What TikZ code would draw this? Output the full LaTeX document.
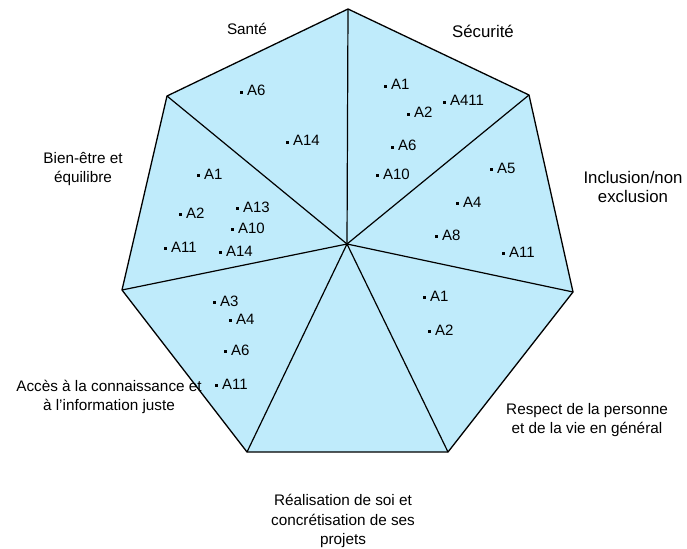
\documentclass[tikz,border=0pt]{standalone}
\usepackage{fontspec}
\setmainfont{Liberation Sans}
\definecolor{cellblue}{RGB}{191,235,251}
\newcommand\itmdot{\raisebox{0.3ex}{\rule{2.4pt}{2.4pt}}\hspace{4.5pt}}
\begin{document}
\begin{tikzpicture}[x=1pt,y=-1pt,
  sector/.style={fill=cellblue,draw=black,line width=1.2pt,line join=miter},
  lbl/.style={inner sep=0pt,align=center,font=\fontsize{15.3}{19.5}\selectfont},
  biglbl/.style={inner sep=0pt,align=center,font=\fontsize{16.8}{18.5}\selectfont},
  itm/.style={inner sep=0pt,anchor=base west,font=\fontsize{15}{16}\selectfont}]
\useasboundingbox (0,0) rectangle (687,548);
\coordinate (c) at (347,244);
\coordinate (v1) at (348,9);
\coordinate (v2) at (529,95);
\coordinate (v3) at (573,292);
\coordinate (v4) at (448,452);
\coordinate (v5) at (247,452);
\coordinate (v6) at (122,290);
\coordinate (v7) at (167,96);
\fill[cellblue] (v1) -- (v2) -- (v3) -- (v4) -- (v5) -- (v6) -- (v7) -- cycle;
\draw[line width=1.3pt,line join=miter] (v1) -- (v2) -- (v3) -- (v4) -- (v5) -- (v6) -- (v7) -- cycle;
\foreach \v in {v1,v2,v3,v4,v5,v6,v7} \draw[line width=1.2pt] (c) -- (\v);
% labels
\node[lbl] (sante) at (247,29) {Santé};
\node[biglbl] (secu) at (483,31) {Sécurité};
\node[biglbl] (incl) at (633,187) {Inclusion/non\\exclusion};
\node[lbl] (bien) at (83,169) {Bien-être et\\équilibre};
\node[lbl] (acces) at (109,397) {Accès à la connaissance et\\à l'information juste};
\node[lbl] (resp) at (587,420) {Respect de la personne\\et de la vie en général};
\node[lbl] (real) at (343,521) {Réalisation de soi et\\concrétisation de ses\\projets};
% Santé
\node[itm] (s1) at (240,96) {\itmdot A6};
\node[itm] (s2) at (286,146) {\itmdot A14};
% Sécurité
\node[itm] (u1) at (384,90) {\itmdot A1};
\node[itm] (u2) at (443,106) {\itmdot A411};
\node[itm] (u3) at (407,118) {\itmdot A2};
\node[itm] (u4) at (391,151) {\itmdot A6};
\node[itm] (u5) at (376,179) {\itmdot A10};
% Inclusion
\node[itm] (i1) at (490,173) {\itmdot A5};
\node[itm] (i2) at (456,207) {\itmdot A4};
\node[itm] (i3) at (435,240) {\itmdot A8};
\node[itm] (i4) at (502,257) {\itmdot A11};
% Bien-être
\node[itm] (b1) at (197,179) {\itmdot A1};
\node[itm] (b2) at (179,218) {\itmdot A2};
\node[itm] (b3) at (236,212) {\itmdot A13};
\node[itm] (b4) at (231,233) {\itmdot A10};
\node[itm] (b5) at (164,252) {\itmdot A11};
\node[itm] (b6) at (219,256) {\itmdot A14};
% Accès
\node[itm] (a1) at (213,306) {\itmdot A3};
\node[itm] (a2) at (229,324) {\itmdot A4};
\node[itm] (a3) at (224,355) {\itmdot A6};
\node[itm] (a4) at (215,389) {\itmdot A11};
% Respect
\node[itm] (r1) at (423,301) {\itmdot A1};
\node[itm] (r2) at (428,335) {\itmdot A2};
\end{tikzpicture}
\end{document}
